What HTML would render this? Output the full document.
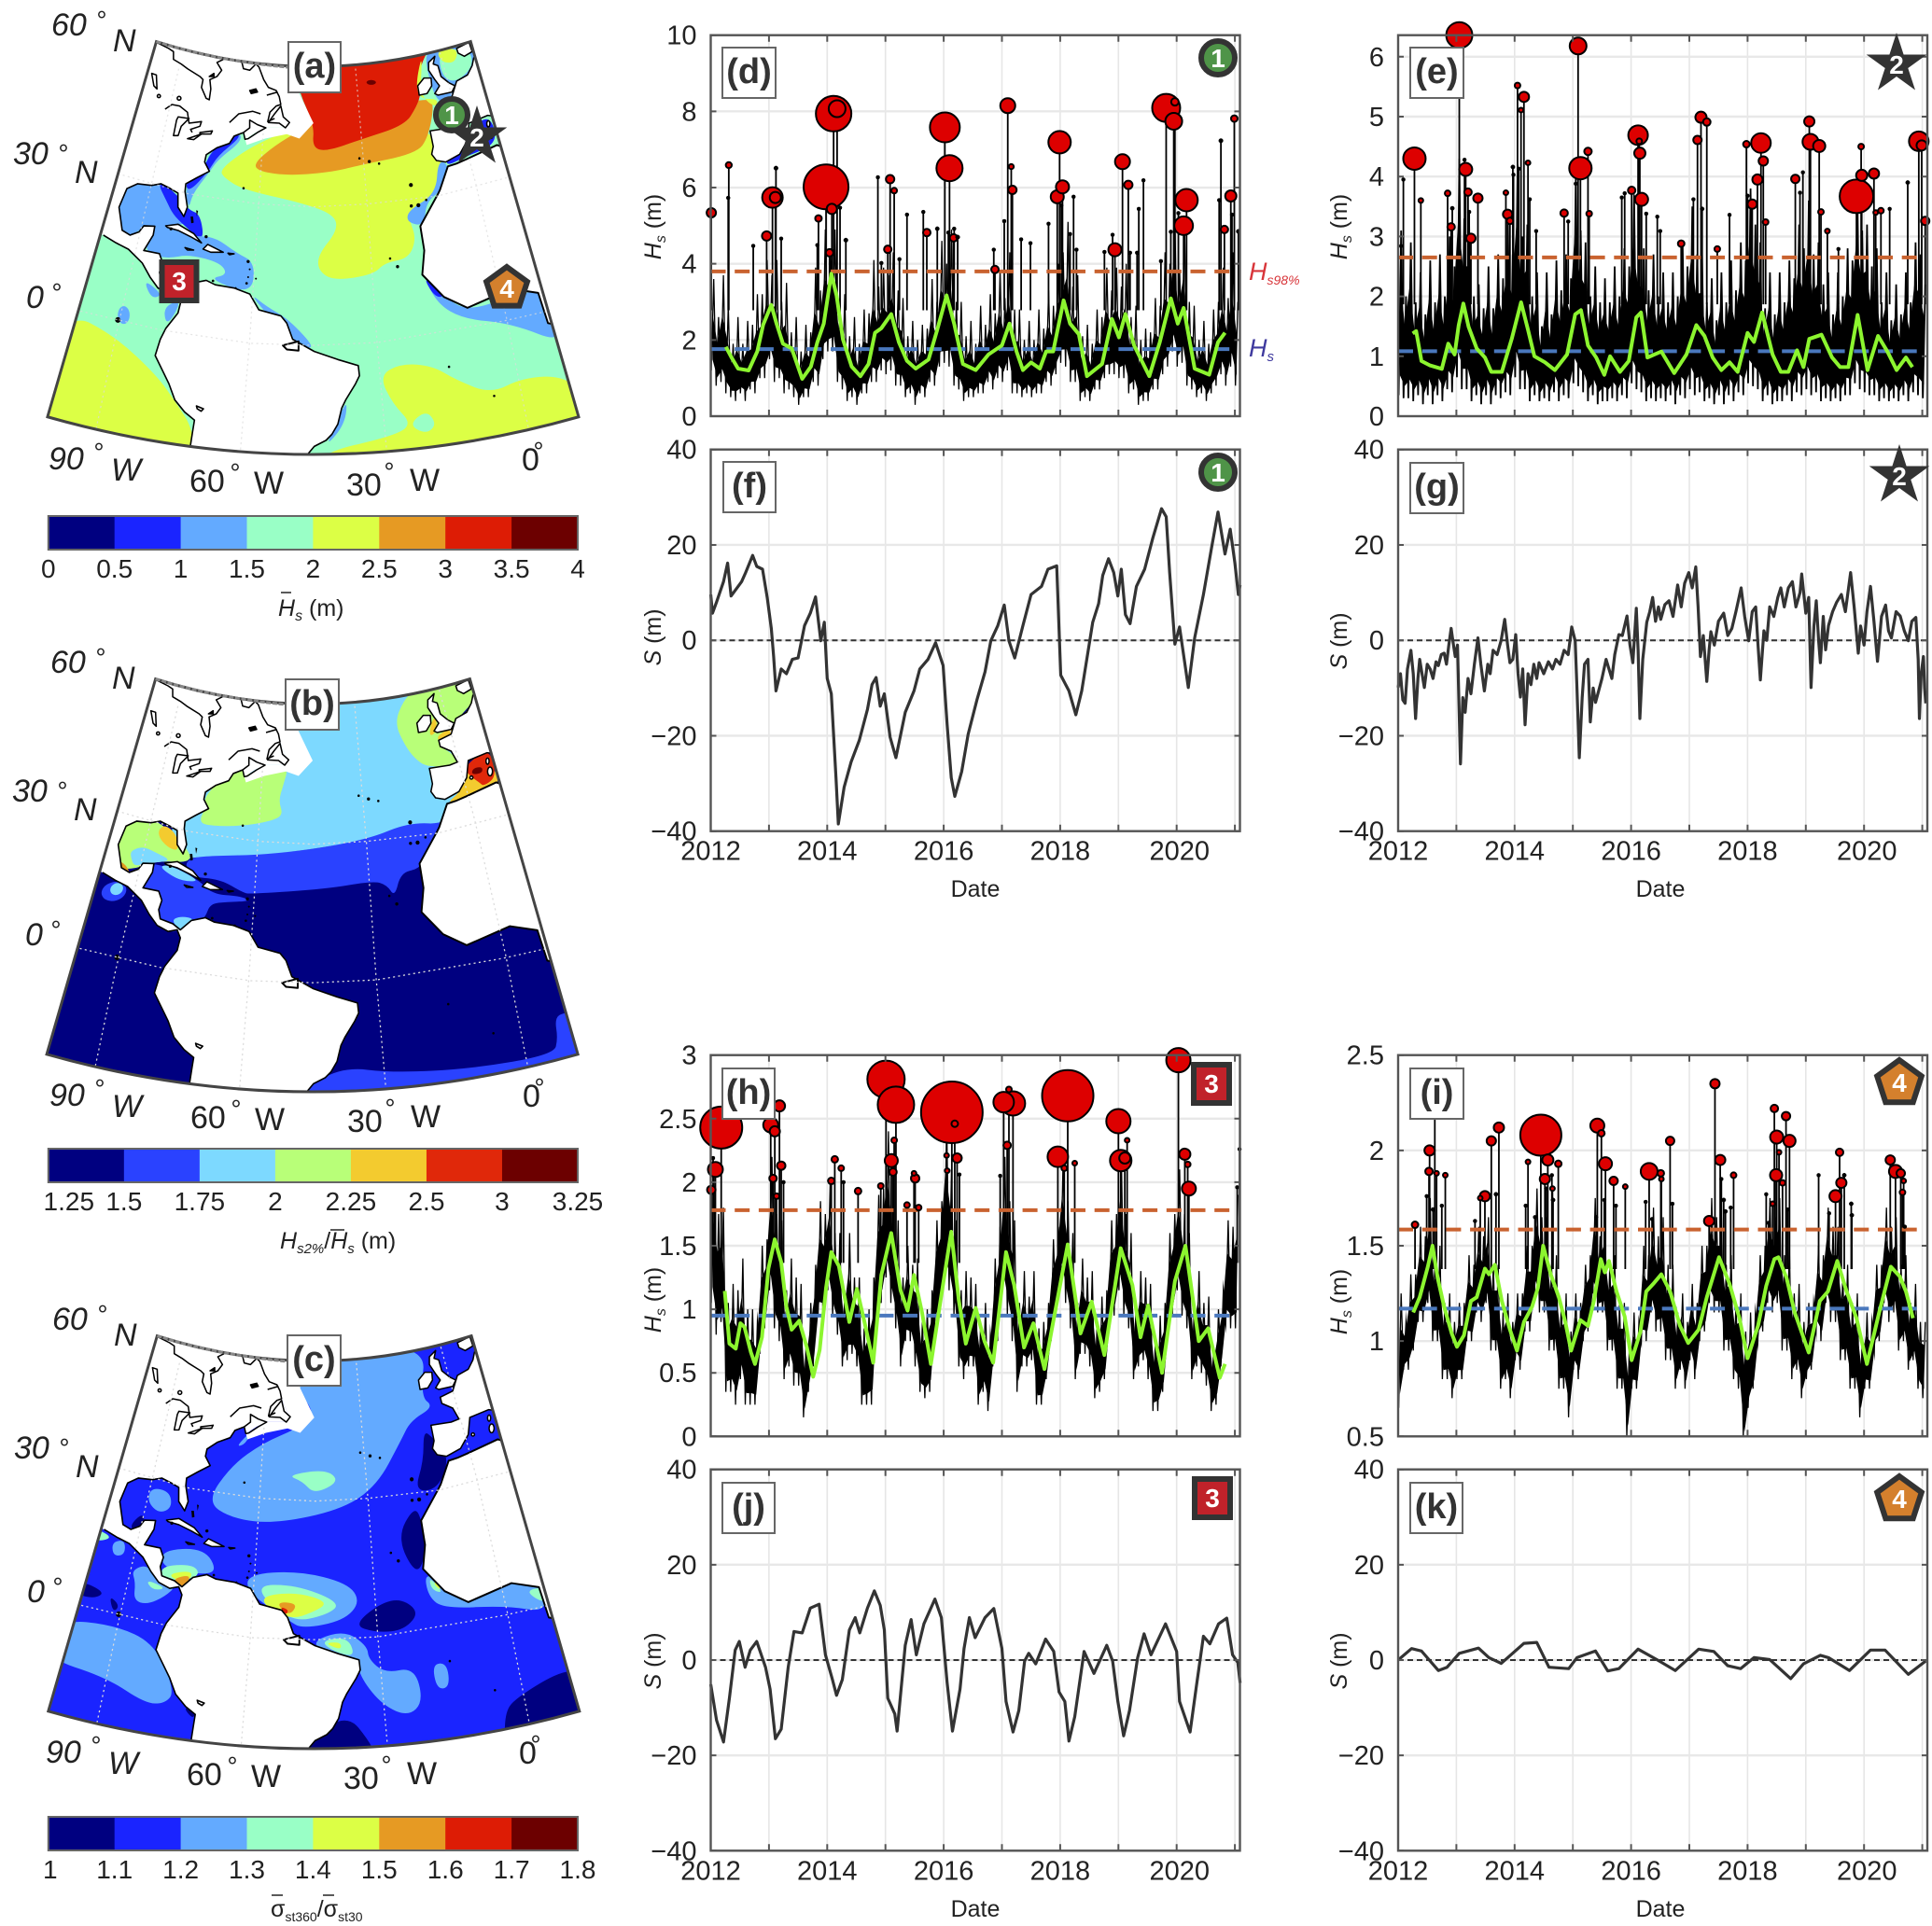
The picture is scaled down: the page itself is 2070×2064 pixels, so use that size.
<!DOCTYPE html>
<html lang="en">
<head>
<meta charset="utf-8">
<title>North Atlantic wave climate maps and time series</title>
<style>
html,body{margin:0;padding:0;background:#fff;}
svg{display:block;}
text{font-family:"Liberation Sans",sans-serif;fill:#222;}
.ll{font-size:34px;}
.it{font-style:italic;}
.pl{font-size:38px;font-weight:bold;fill:#333;text-anchor:middle;}
.box{fill:#fff;stroke:#666;stroke-width:2;}
.bd{font-size:28px;font-weight:bold;fill:#fff;text-anchor:middle;}
.deg{font-size:28px;text-anchor:middle;}
.at{font-size:25px;}
.coast{fill:#fff;stroke:#000;stroke-width:4.6;stroke-linejoin:round;}
.lk{fill:none;stroke:#000;stroke-width:4.6;stroke-linejoin:round;}
.lkf{fill:none;stroke:#000;stroke-width:3.8;stroke-linejoin:round;}
.isl{fill:#000;}
.gr{fill:none;stroke:#dcdcdc;stroke-width:3;stroke-dasharray:5 8;}
.fr{fill:none;stroke:#444;stroke-width:7;}
</style>
</head>
<body>
<svg id="root" xmlns="http://www.w3.org/2000/svg" width="2070" height="2064" viewBox="0 0 2070 2064">
<rect width="2070" height="2064" fill="#fff"/>
<defs>
  <path id="fan" d="M398 103 Q798 227 1198 103 L1473 1032 Q797 1218 121 1032 Z"/>
  <clipPath id="fan-a"><path d="M398 103 Q798 227 1198 103 L1473 1032 Q797 1218 121 1032 Z"/></clipPath>
  <clipPath id="fan-b"><path transform="translate(-2 7)" d="M398 103 Q798 227 1198 103 L1473 1032 Q797 1218 121 1032 Z"/></clipPath>
  <clipPath id="fan-c"><path transform="translate(2 7)" d="M398 103 Q798 227 1198 103 L1473 1032 Q797 1218 121 1032 Z"/></clipPath>
  <g id="land">
    <polygon fill="#fff" points="398,103 760,172 715,259 735,305 727,316 677,316 651,328 624,345 620,328 596,337 584,355 552,366 525,383 521,401 533,424 501,440 473,455 471,474 477,513 468,536 453,513 453,478 434,467 410,455 386,459 350,455 323,467 303,513 311,570 331,582 354,574 366,559 394,560 390,582 366,620 406,628 414,651 406,674 410,697 442,709 461,724 489,701 525,694 548,705 596,713 636,728 659,767 715,782 730,800 745,840 800,870 860,890 912,905 915,930 905,950 880,990 870,1010 860,1050 845,1075 830,1090 800,1105 770,1140 482,1120 490,1070 495,1040 470,1020 445,990 430,950 415,920 395,880 408,840 422,813 453,775 461,744 453,724 430,728 402,713 382,686 362,651 327,617 295,601 263,582 200,560 300,200"/>
    <polygon fill="#fff" points="600,170 762,172 762,232 798,305 762,343 730,332 675,343 628,359 624,345 676,316 727,316 735,305 715,259"/>
    <polyline class="lkf" points="620,328 596,337 584,355 552,366 525,383 521,401 533,424 501,440 473,455 471,474 477,513 468,536 453,513 453,478 434,467 410,455 386,459 350,455 323,467 303,513 311,570 331,582 354,574 366,559 394,560 390,582 366,620 406,628 414,651 406,674 410,697 442,709 461,724 489,701 525,694 548,705 596,713 636,728 659,767 715,782 730,800 745,840 800,870 860,890 912,905 915,930 905,950 880,990 870,1010 860,1050 845,1075 830,1090 800,1105 770,1140"/>
    <polyline class="lkf" points="482,1120 490,1070 495,1040 470,1020 445,990 430,950 415,920 395,880 408,840 422,813 453,775 461,744 453,724 430,728 402,713 382,686 362,651 327,617 295,601 263,582"/>
    <polygon class="lkf" points="500,1005 518,1012 512,1018 502,1012"/>
    <polygon class="coast" stroke-width="3.8" points="720,855 760,845 760,868 730,865"/>

    <!-- Canada, Great Lakes and Maritimes -->
    <g transform="translate(382.2 96.95) scale(.792 .77)">
      <polyline class="lk" points="20,10 60,30 75,40 75,65 100,80 120,95 160,120 170,130 165,155 180,190 190,195 195,160 192,130 215,120 230,100 215,75 235,65"/>
      <polyline class="lk" points="295,75 300,95 320,100 340,80 350,90 365,130 380,155 405,165 415,185 420,210 405,215 385,235 378,265 400,255"/>
      <polyline class="lk" points="400,240 420,215 428,250 448,268 435,285 415,270 380,268 400,240"/>
      <polyline class="lk" points="255,268 285,240 330,232 355,240"/>
      <polyline class="lk" points="300,300 320,285 320,260 345,275 372,285 345,300 315,320 305,322 300,300"/>
      <polygon class="lk" style="fill:#000" points="320,165 340,160 345,170 325,175"/>
      <polyline class="lk" points="375,180 410,170"/>
      <polygon class="lk" points="5,110 20,115 22,160 12,150"/>
      <circle class="lk" cx="28" cy="183" r="5"/>
      <circle class="lk" cx="93" cy="190" r="6"/>
      <polyline class="lk" points="48,225 70,210 95,215 120,235 125,270 165,265 160,280 130,290 135,300"/>
      <polygon class="lk" points="85,260 75,310 90,310 100,280 125,255 90,250"/>
      <polygon class="lk" points="120,320 165,305 140,323"/>
      <polygon class="lk" points="160,300 200,295 195,305 160,305"/>
      <polygon class="lk" style="fill:#000" points="190,120 205,110 205,120"/>
    </g>

    <!-- Europe -->
    <g transform="translate(1011.8 96.95) scale(.792 .77)">
      <polygon class="coast" points="245,60 240,85 225,115 190,135 175,185 135,205 140,225 175,240 195,275 170,285 105,295 115,345 110,370 125,390 155,395 200,370 225,325 230,270 290,245 330,250 300,40"/>
      <polygon class="coast" points="100,75 120,55 115,80 130,85 140,120 165,140 185,150 175,170 130,180 120,175 135,150 120,130 100,100"/>
      <polygon class="coast" points="65,150 85,125 108,125 110,150 95,175 70,180"/>
      <polygon class="coast" points="190,30 230,10 240,40 215,55 195,45"/>
      <ellipse class="coast" cx="292" cy="272" rx="5" ry="10"/>
      <ellipse class="coast" cx="300" cy="305" rx="8" ry="14"/>
      <circle class="coast" cx="240" cy="325" r="5"/>
    </g>
    <polygon class="coast" stroke-width="3.8" points="1140,412 1162,405 1190,393 1265,359 1300,370 1500,820 1395,800 1370,725 1300,715 1190,762 1130,735 1075,680 1080,620 1070,560 1115,480 1120,470"/>

    <!-- Caribbean islands -->
    <g transform="translate(263.4 420.35) scale(.792 .77)">
      <polygon class="coast" points="200,180 240,175 290,205 315,235 280,215 240,195 205,185"/>
      <polygon class="coast" points="335,240 385,265 345,265 320,255"/>
      <polygon class="coast" points="262,250 290,258 270,258"/>
      <polygon class="coast" points="400,268 420,270 405,273"/>
      <polygon class="isl" points="280,150 288,150 290,170 282,172"/>
      <polygon class="isl" points="298,130 304,132 300,150"/>
      <circle class="isl" cx="330" cy="215" r="5"/>
      <circle class="isl" cx="217" cy="190" r="5"/>
      <circle class="isl" cx="465" cy="295" r="5"/>
      <circle class="isl" cx="470" cy="320" r="3"/>
      <circle class="isl" cx="465" cy="345" r="3"/>
      <circle class="isl" cx="490" cy="350" r="3"/>
      <circle class="isl" cx="460" cy="365" r="4"/>
      <circle class="isl" cx="352" cy="357" r="4"/>
      <circle class="isl" cx="425" cy="380" r="3"/>
    </g>
    <circle class="isl" cx="915" cy="392" r="3"/><circle class="isl" cx="940" cy="400" r="4"/><circle class="isl" cx="965" cy="405" r="3"/>
    <circle class="isl" cx="1046" cy="458" r="5"/><circle class="isl" cx="1047" cy="510" r="4"/><circle class="isl" cx="1065" cy="508" r="5"/><circle class="isl" cx="1085" cy="495" r="3"/>
    <circle class="isl" cx="993" cy="640" r="3"/><circle class="isl" cx="1012" cy="660" r="4"/><circle class="isl" cx="300" cy="792" r="7"/>
    <circle class="isl" cx="620" cy="466" r="3"/><circle class="isl" cx="1143" cy="908" r="3"/><circle class="isl" cx="1258" cy="980" r="3"/>
  </g>
  <g id="grat">
    <polyline class="gr" points="205,770 410,817 640,850 800,855 960,848 1280,795 1395,770"/>
    <polyline class="gr" points="300,430 480,480 660,505 800,512 935,505 1115,485 1290,440"/>
    <polyline class="gr" points="455,170 370,520 295,830 245,1060"/>
    <polyline class="gr" points="670,330 655,560 635,850 612,1115"/>
    <polyline class="gr" points="905,170 935,510 960,850 985,1125"/>
    <polyline class="gr" points="1120,130 1210,450 1290,790 1345,1060"/>
  </g>
</defs>

<!-- MAP A -->
<g transform="scale(.4209 .4329)">
 <g clip-path="url(#fan-a)">
  <use href="#fan" fill="#99ffc6"/>
  <g class="contours">
  <polygon fill="#dcff45" points="170,770 290,830 400,930 450,1000 490,1060 500,1160 80,1120 70,1000"/>
  <polygon fill="#dcff45" points="560,420 620,375 700,335 780,310 1100,310 1135,405 1110,480 1050,520 1040,540 1060,590 1040,640 980,650 950,680 850,695 810,670 810,630 860,570 850,530 760,500 620,470 570,440"/>
  <polygon fill="#e69a23" points="645,405 700,360 760,325 800,300 1090,240 1105,260 1090,340 1060,380 910,410 850,425 740,435 660,425"/>
  <polygon fill="#dd1c05" points="740,130 762,230 800,310 795,365 830,375 920,345 1030,310 1060,265 1072,230 1060,210 1075,150 1100,110"/>
  <ellipse fill="#6c0000" cx="945" cy="204" rx="12" ry="6"/>
  <polygon fill="#dcff45" points="1075,130 1058,210 1070,245 1115,245 1110,265 1085,250 1070,225"/>
  <polygon fill="#63aaff" points="1085,120 1220,90 1235,175 1165,240 1115,262 1085,170"/>
  <polygon fill="#99ffc6" points="1115,125 1195,120 1205,165 1160,205 1125,190"/>
  <polygon fill="#dcff45" points="1110,125 1165,118 1160,155 1125,155"/>
  <polygon fill="#dcff45" points="965,930 1020,900 1100,905 1160,940 1250,975 1330,935 1440,930 1510,1000 1480,1120 1100,1170 810,1170 820,1120 1000,1080 1050,1050 1000,1000"/>
  <polygon fill="#99ffc6" points="1040,1052 1085,1015 1112,1050 1085,1075"/>
  <polygon fill="#63aaff" points="1075,670 1130,735 1190,770 1300,735 1400,710 1445,855 1300,800 1180,790 1110,750"/>
  <polygon fill="#1a24ff" points="1075,680 1135,735 1105,735"/>
  <polygon fill="#63aaff" points="345,440 400,440 440,470 480,540 460,560 400,560 360,565 325,590 285,530 305,470"/>
  <polygon fill="#1a24ff" points="400,450 440,470 480,520 510,530 520,600 470,560 440,530 425,500"/>
  <polygon fill="#63aaff" points="375,565 425,545 480,585 545,585 600,625 650,650 640,730 530,690 580,680 560,650 480,630 430,640 370,630"/>
  <polygon fill="#63aaff" points="470,460 515,425 540,365 610,325 615,350 555,395 530,430 490,480 480,520"/>
  <polygon fill="#1a24ff" points="470,455 515,425 540,370 605,330 610,342 555,385 530,425 482,475"/>
  <polygon fill="#63aaff" points="635,725 680,760 735,790 810,870 740,845 690,790"/>
  <polygon fill="#63aaff" points="365,690 415,730 385,740"/>
  <polygon fill="#63aaff" points="415,760 465,740 425,810"/>
  <polygon fill="#63aaff" points="850,1060 885,985 878,1050 830,1105"/>
  <polygon fill="#1a24ff" points="1190,330 1245,280 1270,355 1180,390 1140,410 1135,395 1180,375"/>
  <polygon fill="#63aaff" points="1115,395 1145,410 1125,470 1085,500 1080,560 1035,550 1040,520 1110,480"/>
  </g>
  <ellipse fill="#63aaff" cx="315" cy="780" rx="15" ry="22"/>
  <use href="#land"/>
 </g>
 <use href="#grat" opacity=".7"/>
 <use href="#fan" class="fr"/>
 <path d="M398 103 Q560 152 740 167" fill="none" stroke="#888" stroke-width="7" stroke-dasharray="12 4"/>
</g>

<!-- MAP B -->
<g transform="translate(0 680) scale(.4209 .4329)">
 <g clip-path="url(#fan-b)">
  <use href="#fan" transform="translate(-2 7)" fill="#000080"/>
  <g class="contours">
  <polygon fill="#2a42ff" points="700,1180 770,1130 870,1070 1000,1085 1200,1075 1410,1040 1420,1000 1412,950 1435,935 1510,930 1510,1110 1000,1190"/>
  <polygon fill="#2a42ff" points="470,545 700,545 930,510 1040,455 1125,450 1115,490 1075,560 1065,580 1020,590 1005,650 985,620 950,610 830,630 640,642 620,640 560,605 480,600"/>
  <polygon fill="#7dd9ff" points="700,120 1090,110 1200,300 1170,400 1140,470 1040,465 930,510 700,545 505,548 470,560 420,480 540,300 700,250"/>
  <polygon fill="#b8ff78" points="505,465 525,425 520,405 545,375 586,340 622,335 645,350 673,335 735,325 721,373 709,412 721,447 689,462 618,474 539,474"/>
  <polygon fill="#b8ff78" points="1025,166 1060,130 1160,100 1215,130 1200,173 1168,204 1148,246 1117,262 1121,277 1148,293 1175,320 1089,330 1055,306 1030,273 1005,220"/>
  <polygon fill="#f3cb2f" points="1097,220 1109,200 1113,239 1093,254"/>
  <polygon fill="#f3cb2f" points="1113,250 1148,231 1160,208 1188,192 1205,165 1200,190 1164,220 1148,250 1117,265"/>
  <polygon fill="#f3cb2f" points="1135,420 1188,400 1275,370 1260,330 1200,330 1180,358 1172,389"/>
  <polygon fill="#e0280a" points="1192,318 1245,280 1265,350 1232,376 1220,366 1196,350 1186,335"/>
  <polygon fill="#6c0000" points="1204,331 1228,327 1228,343 1200,347"/>
  <polygon fill="#b8ff78" points="320,455 390,450 475,525 490,565 400,560 345,580 300,580 285,525"/>
  <polygon fill="#f3cb2f" points="402,485 420,470 450,495 455,535 432,530 408,508"/>
  <polygon fill="#7dd9ff" points="333,535 364,524 404,543 428,555 424,562 372,566 341,574 333,551"/>
  <polygon fill="#e09a20" points="300,558 320,570 332,592 308,585"/>
  <polygon fill="#2a42ff" points="360,555 499,600 539,643 610,647 640,660 578,662 535,666 523,700 490,730 400,740 395,640 350,620"/>
  <polygon fill="#7dd9ff" points="404,574 432,570 507,608 483,612 447,604"/>
  <polygon fill="#7dd9ff" points="435,708 459,697 499,704 467,740"/>
  </g>
  <ellipse fill="#2a42ff" cx="290" cy="636" rx="32" ry="23" transform="rotate(-15 290 636)"/>
  <ellipse fill="#7dd9ff" cx="297" cy="630" rx="17" ry="14" transform="rotate(-30 297 630)"/>
  <use href="#land" transform="translate(-2 7)"/>
 </g>
 <use href="#grat" transform="translate(-2 7)"/>
 <use href="#fan" class="fr" transform="translate(-2 7)"/>
 <path transform="translate(-2 7)" d="M398 103 Q560 152 740 167" fill="none" stroke="#888" stroke-width="7" stroke-dasharray="12 4"/>
</g>

<!-- MAP C -->
<g transform="translate(0 1384) scale(.4209 .4329)">
 <g clip-path="url(#fan-c)">
  <use href="#fan" transform="translate(2 7)" fill="#1a24ff"/>
  <g class="contours">
  <polygon fill="#63aaff" points="740,150 1085,125 1070,260 1105,285 1045,320 1020,370 960,480 870,540 700,575 590,562 525,520 590,430 670,375 755,340 805,305 755,240"/>
  <polygon fill="#63aaff" points="600,385 640,345 625,378"/>
  <polygon fill="#99ffc6" points="730,455 830,440 865,470 800,502 770,470"/>
  <polygon fill="#000080" points="1078,345 1100,360 1145,410 1115,490 1055,495 1078,420"/>
  <polygon fill="#000080" points="1055,530 1075,570 1085,650 1060,705 1010,610"/>
  <polygon fill="#63aaff" points="385,485 432,495 438,535 405,550 375,520"/>
  <polygon fill="#000080" points="330,580 360,550 370,565 345,595"/>
  <polygon fill="#63aaff" points="410,640 520,635 555,695 500,700 415,685"/>
  <polygon fill="#99ffc6" points="405,680 495,675 510,708 420,720"/>
  <polygon fill="#dcff45" points="420,700 495,690 475,725"/>
  <polygon fill="#e69a23" points="435,712 490,700 465,738"/>
  <polygon fill="#63aaff" points="630,700 760,692 885,722 918,768 875,815 770,835 735,815 630,745"/>
  <polygon fill="#99ffc6" points="640,728 750,725 868,770 835,800 740,820"/>
  <polygon fill="#dcff45" points="672,752 760,745 838,770 795,795 740,812 672,778"/>
  <polygon fill="#e69a23" points="700,768 760,772 735,805"/>
  <polygon fill="#dd1c05" points="712,780 735,788 728,802"/>
  <polygon fill="#000080" points="895,825 1000,752 1070,790 1030,838 960,845"/>
  <polygon fill="#63aaff" points="805,860 880,840 935,878 938,910 980,945 1055,930 1078,1015 1040,1052 975,1025 920,960 905,905 805,885"/>
  <polygon fill="#99ffc6" points="815,865 885,855 905,905 850,892"/>
  <polygon fill="#dcff45" points="825,870 868,868 868,888"/>
  <polygon fill="#63aaff" points="1100,922 1138,920 1145,980 1112,985"/>
  <polygon fill="#63aaff" points="1080,695 1130,725 1190,762 1300,710 1380,715 1395,795 1290,778 1130,785 1090,755"/>
  <polygon fill="#99ffc6" points="1092,705 1130,748 1098,738"/>
  <polygon fill="#dcff45" points="1105,715 1125,740 1108,730"/>
  <polygon fill="#99ffc6" points="1335,742 1385,730 1390,775"/>
  <polygon fill="#000080" points="1285,1045 1310,1008 1440,932 1510,950 1510,1110 1285,1130"/>
  <polygon fill="#000080" points="730,1170 875,1035 950,1125 965,1180"/>
  <polygon fill="#63aaff" points="150,812 290,825 395,872 445,990 420,1020 370,1020 270,955 110,905"/>
  <polygon fill="#000080" points="205,715 268,745 240,760 195,750"/>
  <polygon fill="#000080" points="278,752 305,778 288,795"/>
  <polygon fill="#63aaff" points="335,690 375,675 400,715 450,728 420,755 375,775 340,765 345,720"/>
  <polygon fill="#99ffc6" points="370,712 425,735 388,740"/>
  <polygon fill="#63aaff" points="285,620 318,615 318,652 288,655"/>
  <polygon fill="#99ffc6" points="240,585 290,610 240,620"/>
  <polygon fill="#000080" points="465,1028 500,1036 492,1060"/>
  </g>
  <use href="#land" transform="translate(2 7)"/>
 </g>
 <use href="#grat" transform="translate(2 7)"/>
 <use href="#fan" class="fr" transform="translate(2 7)"/>
 <path transform="translate(2 7)" d="M398 103 Q560 152 740 167" fill="none" stroke="#888" stroke-width="7" stroke-dasharray="12 4"/>
</g>

<!-- map graticule labels -->
<g>
 <text class="ll it" x="55" y="38">60</text><text class="deg" x="109" y="31">°</text><text class="ll it" x="121" y="55">N</text>
 <text class="ll it" x="14" y="176">30</text><text class="deg" x="68" y="174">°</text><text class="ll it" x="80" y="196">N</text>
 <text class="ll it" x="28" y="330">0</text><text class="deg" x="61" y="323">°</text>
</g>
<g>
 <text class="ll it" x="52" y="503">90</text><text class="deg" x="106" y="494">°</text><text class="ll it" x="119" y="515">W</text>
 <text class="ll" x="203" y="527">60</text><text class="deg" x="252" y="516">°</text><text class="ll" x="272" y="529">W</text>
 <text class="ll" x="371" y="531">30</text><text class="deg" x="417" y="515">°</text><text class="ll" x="439" y="526">W</text>
 <text class="ll" x="559" y="504">0</text><text class="deg" x="577" y="493">°</text>
</g>
<g transform="translate(-1 683)">
 <text class="ll it" x="55" y="38">60</text><text class="deg" x="109" y="31">°</text><text class="ll it" x="121" y="55">N</text>
 <text class="ll it" x="14" y="176">30</text><text class="deg" x="68" y="174">°</text><text class="ll it" x="80" y="196">N</text>
 <text class="ll it" x="28" y="330">0</text><text class="deg" x="61" y="323">°</text>
</g>
<g transform="translate(1 682)">
 <text class="ll it" x="52" y="503">90</text><text class="deg" x="106" y="494">°</text><text class="ll it" x="119" y="515">W</text>
 <text class="ll" x="203" y="527">60</text><text class="deg" x="252" y="516">°</text><text class="ll" x="272" y="529">W</text>
 <text class="ll" x="371" y="531">30</text><text class="deg" x="417" y="515">°</text><text class="ll" x="439" y="526">W</text>
 <text class="ll" x="559" y="504">0</text><text class="deg" x="577" y="493">°</text>
</g>
<g transform="translate(1 1387)">
 <text class="ll it" x="55" y="38">60</text><text class="deg" x="109" y="31">°</text><text class="ll it" x="121" y="55">N</text>
 <text class="ll it" x="14" y="176">30</text><text class="deg" x="68" y="174">°</text><text class="ll it" x="80" y="196">N</text>
 <text class="ll it" x="28" y="330">0</text><text class="deg" x="61" y="323">°</text>
</g>
<g transform="translate(-3 1386)">
 <text class="ll it" x="52" y="503">90</text><text class="deg" x="106" y="494">°</text><text class="ll it" x="119" y="515">W</text>
 <text class="ll" x="203" y="527">60</text><text class="deg" x="252" y="516">°</text><text class="ll" x="272" y="529">W</text>
 <text class="ll" x="371" y="531">30</text><text class="deg" x="417" y="515">°</text><text class="ll" x="439" y="526">W</text>
 <text class="ll" x="559" y="504">0</text><text class="deg" x="577" y="493">°</text>
</g>

<g id="colorbars"></g>
<g id="charts"></g>

<!-- colorbar titles -->
<g>
 <line x1="301" x2="312" y1="635" y2="635" stroke="#222" stroke-width="1.5"/>
 <text x="298" y="660" font-size="25"><tspan font-style="italic">H</tspan><tspan font-style="italic" font-size="16" dy="5">s</tspan><tspan dy="-5"> (m)</tspan></text>
</g>
<g>
 <line x1="354" x2="369" y1="1318" y2="1318" stroke="#222" stroke-width="1.5"/>
 <text x="300" y="1338" font-size="25"><tspan font-style="italic">H</tspan><tspan font-style="italic" font-size="15" dy="5">s2%</tspan><tspan dy="-5">/</tspan><tspan font-style="italic">H</tspan><tspan font-style="italic" font-size="15" dy="5">s</tspan><tspan dy="-5"> (m)</tspan></text>
</g>
<g>
 <line x1="291" x2="303" y1="2031" y2="2031" stroke="#222" stroke-width="1.5"/>
 <line x1="346" x2="358" y1="2031" y2="2031" stroke="#222" stroke-width="1.5"/>
 <text x="290" y="2054" font-size="25">σ<tspan font-size="14" dy="5">st360</tspan><tspan dy="-5">/σ</tspan><tspan font-size="14" dy="5">st30</tspan></text>
</g>

<!-- axis titles -->
<g transform="translate(708 243) rotate(-90)"><text class="at" text-anchor="middle"><tspan font-style="italic">H</tspan><tspan font-style="italic" font-size="16" dy="5">s</tspan><tspan dy="-5"> (m)</tspan></text></g>
<g transform="translate(1443 243) rotate(-90)"><text class="at" text-anchor="middle"><tspan font-style="italic">H</tspan><tspan font-style="italic" font-size="16" dy="5">s</tspan><tspan dy="-5"> (m)</tspan></text></g>
<g transform="translate(708 1393) rotate(-90)"><text class="at" text-anchor="middle"><tspan font-style="italic">H</tspan><tspan font-style="italic" font-size="16" dy="5">s</tspan><tspan dy="-5"> (m)</tspan></text></g>
<g transform="translate(1443 1395) rotate(-90)"><text class="at" text-anchor="middle"><tspan font-style="italic">H</tspan><tspan font-style="italic" font-size="16" dy="5">s</tspan><tspan dy="-5"> (m)</tspan></text></g>
<text class="at" text-anchor="middle" transform="translate(708 683) rotate(-90)"><tspan font-style="italic">S</tspan> (m)</text>
<text class="at" text-anchor="middle" transform="translate(1443 687) rotate(-90)"><tspan font-style="italic">S</tspan> (m)</text>
<text class="at" text-anchor="middle" transform="translate(708 1780) rotate(-90)"><tspan font-style="italic">S</tspan> (m)</text>
<text class="at" text-anchor="middle" transform="translate(1443 1780) rotate(-90)"><tspan font-style="italic">S</tspan> (m)</text>
<text class="at" text-anchor="middle" x="1045" y="961">Date</text>
<text class="at" text-anchor="middle" x="1779" y="961">Date</text>
<text class="at" text-anchor="middle" x="1045" y="2054">Date</text>
<text class="at" text-anchor="middle" x="1779" y="2054">Date</text>

<!-- threshold annotations -->
<text x="1338" y="300" font-size="27" font-style="italic" style="fill:#d8353a">H<tspan font-size="14" dy="5" style="fill:#d8353a">s98%</tspan></text>
<text x="1338" y="382" font-size="27" font-style="italic" style="fill:#3f3a9e">H<tspan font-size="15" dy="5" style="fill:#3f3a9e">s</tspan></text>

<!-- panel labels -->
<g><rect class="box" x="309" y="45" width="56" height="54"/><text class="pl" x="337" y="83">(a)</text></g>
<g><rect class="box" x="306" y="728" width="57" height="54"/><text class="pl" x="334.5" y="766">(b)</text></g>
<g><rect class="box" x="308" y="1431" width="57" height="54"/><text class="pl" x="336.5" y="1469">(c)</text></g>
<g><rect class="box" x="774" y="51" width="57" height="54"/><text class="pl" x="802.5" y="89">(d)</text></g>
<g><rect class="box" x="1511" y="51" width="57" height="54"/><text class="pl" x="1539.5" y="89">(e)</text></g>
<g><rect class="box" x="775" y="495" width="56" height="54"/><text class="pl" x="803" y="533">(f)</text></g>
<g><rect class="box" x="1511" y="496" width="57" height="54"/><text class="pl" x="1539.5" y="534">(g)</text></g>
<g><rect class="box" x="774" y="1145" width="56" height="54"/><text class="pl" x="802" y="1183">(h)</text></g>
<g><rect class="box" x="1511" y="1145" width="57" height="54"/><text class="pl" x="1539.5" y="1183">(i)</text></g>
<g><rect class="box" x="774" y="1589" width="56" height="54"/><text class="pl" x="802" y="1627">(j)</text></g>
<g><rect class="box" x="1511" y="1589" width="56" height="54"/><text class="pl" x="1539" y="1627">(k)</text></g>

<!-- site badges -->
<g><circle cx="484" cy="123" r="17" fill="#4f9448" stroke="#333" stroke-width="6"/><text class="bd" x="484" y="133">1</text></g>
<g transform="translate(511 147)"><polygon fill="#333" points="0,-34 7.6,-10.5 32.3,-10.5 12.3,4 20,27.5 0,13 -20,27.5 -12.3,4 -32.3,-10.5 -7.6,-10.5"/><text class="bd" x="0" y="10">2</text></g>
<g><rect x="173.5" y="281" width="37" height="41" fill="#c0222a" stroke="#333" stroke-width="6"/><text class="bd" x="192" y="311">3</text></g>
<g transform="translate(543 309)"><polygon fill="#d4802d" stroke="#333" stroke-width="6" points="0,-23 21.9,-7.1 13.5,18.6 -13.5,18.6 -21.9,-7.1"/><text class="bd" x="0" y="10">4</text></g>
<g><circle cx="1305" cy="62" r="18" fill="#4f9448" stroke="#333" stroke-width="6"/><text class="bd" x="1305" y="72">1</text></g>
<g><circle cx="1305" cy="506" r="18" fill="#4f9448" stroke="#333" stroke-width="6"/><text class="bd" x="1305" y="516">1</text></g>
<g transform="translate(2032 69)"><polygon fill="#333" points="0,-34 7.6,-10.5 32.3,-10.5 12.3,4 20,27.5 0,13 -20,27.5 -12.3,4 -32.3,-10.5 -7.6,-10.5"/><text class="bd" x="0" y="10">2</text></g>
<g transform="translate(2035 510)"><polygon fill="#333" points="0,-34 7.6,-10.5 32.3,-10.5 12.3,4 20,27.5 0,13 -20,27.5 -12.3,4 -32.3,-10.5 -7.6,-10.5"/><text class="bd" x="0" y="10">2</text></g>
<g><rect x="1279" y="1141" width="38" height="41" fill="#c0222a" stroke="#333" stroke-width="6"/><text class="bd" x="1298" y="1171">3</text></g>
<g><rect x="1280" y="1585" width="38" height="41" fill="#c0222a" stroke="#333" stroke-width="6"/><text class="bd" x="1299" y="1615">3</text></g>
<g transform="translate(2035 1161)"><polygon fill="#d4802d" stroke="#333" stroke-width="6" points="0,-25 23.8,-7.7 14.7,20.2 -14.7,20.2 -23.8,-7.7"/><text class="bd" x="0" y="9">4</text></g>
<g transform="translate(2035 1607)"><polygon fill="#d4802d" stroke="#333" stroke-width="6" points="0,-25 23.8,-7.7 14.7,20.2 -14.7,20.2 -23.8,-7.7"/><text class="bd" x="0" y="9">4</text></g>
</svg>

<script>
// ---------- colorbar data ----------
const cbAColors = ['#000080','#1a24ff','#63aaff','#99ffc6','#dcff45','#e69a23','#dd1c05','#6c0000'];
const cbATicks = ['0','0.5','1','1.5','2','2.5','3','3.5','4'];
const cbBColors = ['#000080','#2a42ff','#7dd9ff','#b8ff78','#f3cb2f','#e0280a','#6c0000'];
const cbBTicks = ['1.25','1.5','1.75','2','2.25','2.5','3','3.25'];
const cbCColors = ['#000080','#1a24ff','#63aaff','#99ffc6','#dcff45','#e69a23','#dd1c05','#6c0000'];
const cbCTicks = ['1','1.1','1.2','1.3','1.4','1.5','1.6','1.7','1.8'];

// ---------- shared axes data ----------
const hsYears = [2012,2013,2014,2015,2016,2017,2018,2019,2020,2021];
const yearLabels = ['2012','','2014','','2016','','2018','','2020',''];
const surgeTicks = [-40,-20,0,20,40];
const surgeTickLabels = ['−40','−20','0','20','40'];
const dTicks = [0,2,4,6,8,10];
const dTickLabels = ['0','2','4','6','8','10'];
const eTicks = [0,1,2,3,4,5,6];
const eTickLabels = ['0','1','2','3','4','5','6'];
const hTicks = [0,0.5,1,1.5,2,2.5,3];
const hTickLabels = ['0','0.5','1','1.5','2','2.5','3'];
const iTicks = [0.5,1,1.5,2,2.5];
const iTickLabels = ['0.5','1','1.5','2','2.5'];

// ---------- raw Hs traces: alternating monthly low, high envelope readings ----------
const dSeries = [1.2,3.6,.8,2.6,.9,3.7,.6,2.9,.5,1.9,.4,2.6,.6,1.9,.4,2.5,.7,2.4,.6,3.2,1.0,3.2,1.0,4.1,
1.5,3.7,.9,4.1,1.0,3.0,.6,3.5,.7,2.2,.5,2.6,.3,1.7,.5,2.4,.5,2.2,.9,3.9,.8,3.3,1.5,4.9,
1.7,4.4,1.7,4.9,.9,3.1,.7,3.2,.4,2.1,.5,2.6,.3,1.9,.6,2.8,.6,2.7,.9,4.1,.9,3.4,1.2,3.9,
1.1,3.7,1.2,4.3,.8,3.3,.8,3.1,.5,2.1,.6,2.5,.3,2.0,.6,2.4,.5,2.3,.9,3.6,.8,3.0,1.3,4.6,
1.4,4.0,1.3,4.9,.8,3.0,.7,3.0,.4,2.1,.5,2.5,.5,1.9,.6,2.9,.6,2.4,.9,3.2,.7,2.7,1.0,3.8,
.9,3.1,1.2,4.3,.6,2.8,.6,2.8,.5,2.0,.6,2.5,.5,2.0,.6,2.8,.6,2.3,.9,3.3,.8,2.9,1.1,4.0,
1.4,4.3,1.3,5.1,.9,3.4,.9,3.7,.4,2.1,.5,2.4,.4,1.9,.7,2.8,.7,2.6,1.0,3.9,1.1,3.3,1.1,3.9,
1.0,3.4,1.0,4.0,.6,2.6,.7,2.9,.3,2.0,.4,2.3,.4,2.2,.7,3.1,.7,2.9,1.1,4.3,1.3,4.0,1.7,5.4,
1.3,3.8,1.4,5.0,.8,3.0,.7,2.9,.5,2.0,.6,2.5,.4,1.9,.6,2.8,.8,3.0,1.1,3.9,.8,3.1,1.3,4.3,.8,3.0];
const eSeries = [.35,3.1,.3,2.0,.3,2.9,.25,1.9,.35,2.4,.2,1.7,.35,2.6,.2,1.9,.35,2.7,.25,2.0,.45,3.0,.4,2.5,
.65,4.3,.45,3.3,.45,3.3,.25,2.0,.35,2.2,.2,1.8,.35,2.5,.2,1.8,.35,2.7,.3,2.3,.4,3.2,.35,2.7,
.65,4.2,.45,3.0,.45,3.2,.25,2.0,.35,2.4,.25,1.5,.3,2.4,.25,1.7,.4,2.6,.25,2.1,.35,2.7,.3,2.3,
.55,4.0,.5,3.1,.4,2.9,.25,2.0,.35,2.5,.2,1.9,.25,2.3,.25,1.9,.3,2.5,.25,2.0,.35,2.8,.3,2.5,
.55,3.7,.45,2.9,.4,2.8,.25,2.1,.3,2.7,.25,2.0,.3,2.4,.25,1.9,.35,2.4,.2,2.0,.35,2.9,.3,2.5,
.45,3.5,.35,2.7,.4,2.7,.25,1.9,.3,2.3,.2,1.6,.35,2.4,.2,1.9,.35,2.6,.25,2.1,.4,2.9,.35,2.6,
.55,3.8,.5,3.2,.45,2.9,.25,1.8,.35,2.4,.2,1.7,.25,2.4,.25,1.9,.35,2.6,.25,2.3,.4,3.2,.35,2.8,
.45,3.6,.35,2.7,.4,2.9,.25,2.2,.3,2.4,.25,1.7,.3,2.4,.25,2.0,.35,2.8,.35,2.6,.55,3.8,.45,3.1,
.4,3.2,.35,2.5,.35,2.8,.25,1.9,.3,2.4,.25,1.6,.3,2.2,.25,1.7,.35,2.4,.25,1.9,.4,2.9,.35,2.7,.3,2.2];
const hSeries = [1.05,2.1,.8,1.75,.9,1.8,.35,1.05,.35,1.2,.25,1.15,.45,1.4,.25,1.0,.25,1.0,.25,.9,.65,1.5,.85,1.55,
1.15,2.2,.85,1.75,.75,1.7,.45,1.15,.55,1.4,.4,1.25,.4,1.2,.15,.7,.35,1.05,.55,1.35,.95,1.85,.95,1.75,
1.15,2.0,.95,1.6,.8,1.6,.55,1.15,.6,1.6,.65,1.25,.55,1.25,.25,.85,.25,1.0,.25,1.25,.95,1.9,1.05,1.95,
1.25,2.4,1.05,1.95,.85,1.7,.55,1.25,.75,1.5,.75,1.35,.55,1.4,.35,.9,.3,1.0,.35,1.15,.85,1.7,.95,1.85,
1.25,2.5,1.15,2.1,.95,1.7,.55,1.15,.45,1.3,.55,1.25,.55,1.2,.25,.9,.35,1.05,.2,.8,.55,1.4,.75,1.65,
1.15,2.2,.95,1.85,.75,1.7,.35,1.05,.55,1.3,.55,1.1,.6,1.3,.25,.85,.25,.9,.45,1.05,.75,1.55,.95,1.65,
1.25,2.2,1.05,1.85,.85,1.6,.45,1.05,.65,1.4,.65,1.25,.55,1.3,.3,.9,.35,1.1,.45,1.15,.85,1.7,.95,1.75,
1.15,2.2,.95,1.75,.85,1.6,.45,1.0,.55,1.3,.6,1.25,.45,1.2,.2,.75,.2,.95,.35,1.05,.75,1.6,.95,1.75,
1.15,2.1,.95,1.75,.85,1.6,.45,1.0,.55,1.3,.5,1.05,.4,1.1,.2,.7,.25,1.0,.55,1.15,.9,1.7,.85,1.65,.85,1.9];
const iSeries = [.65,1.25,.85,1.1,.85,1.35,.95,1.35,1.1,1.6,1.1,1.55,1.2,1.75,1.0,1.45,1.0,1.5,.8,1.2,.8,1.25,.7,1.1,
.8,1.2,.8,1.2,1.0,1.45,1.0,1.4,1.15,1.6,1.1,1.55,1.2,1.65,.95,1.4,.95,1.4,.75,1.15,.8,1.25,.7,1.1,
.9,1.25,.85,1.25,1.05,1.5,1.05,1.5,1.25,1.8,1.15,1.65,1.15,1.65,.95,1.4,.95,1.45,.75,1.2,.75,1.25,.6,1.05,
.85,1.25,.8,1.2,1.0,1.4,1.05,1.45,1.25,1.75,1.15,1.55,1.15,1.65,.95,1.4,.95,1.45,.75,1.2,.75,1.2,.5,.95,
.75,1.15,.75,1.1,1.0,1.5,1.0,1.45,1.15,1.7,1.05,1.55,1.05,1.65,.9,1.4,.9,1.4,.75,1.15,.85,1.25,.75,1.1,
.9,1.3,.8,1.2,1.0,1.5,1.05,1.5,1.2,1.75,1.15,1.65,1.15,1.65,.95,1.4,.95,1.45,.8,1.2,.75,1.25,.45,1.05,
.65,1.15,.75,1.15,1.0,1.45,1.05,1.5,1.2,1.75,1.15,1.65,1.2,1.75,.95,1.45,.95,1.5,.8,1.25,.85,1.3,.7,1.1,
.8,1.2,.85,1.2,1.05,1.5,1.0,1.45,1.2,1.7,1.1,1.6,1.1,1.6,.9,1.35,.9,1.4,.75,1.2,.75,1.25,.6,1.0,
.75,1.15,.75,1.1,.95,1.4,1.0,1.4,1.2,1.7,1.1,1.6,1.15,1.65,.95,1.4,1.0,1.45,.85,1.2,.9,1.3,.75,1.1,.7,1.1];

// ---------- 30-day running means ----------
const dMeanT = [2012.26,2012.36,2012.47,2012.65,2012.8,2012.9,2013.04,2013.13,2013.24,2013.39,2013.57,2013.72,2013.83,2013.94,2014.07,2014.16,2014.27,2014.42,2014.57,2014.71,2014.82,2014.93,2015.1,2015.23,2015.37,2015.52,2015.74,2015.89,2016.05,2016.18,2016.33,2016.55,2016.77,2017,2017.13,2017.25,2017.36,2017.5,2017.65,2017.76,2017.88,2018.06,2018.17,2018.32,2018.46,2018.72,2018.89,2019.01,2019.12,2019.27,2019.53,2019.71,2019.9,2020.02,2020.12,2020.31,2020.56,2020.71,2020.83];
const dMeanV = [1.82,1.53,1.25,1.2,1.7,2.4,2.92,2.43,1.9,1.78,.98,1.3,1.94,2.43,3.74,3.17,2.02,1.3,1.05,1.37,2.19,2.31,2.68,1.94,1.45,1.25,1.49,2.27,3.17,2.43,1.37,1.21,1.62,1.86,2.43,1.7,1.21,1.41,1.25,1.7,1.7,3.04,2.43,2.15,1.05,1.37,2.55,2.07,2.68,1.86,1.05,1.94,3.09,2.43,2.84,1.25,1.09,1.94,2.19];
const eMeanT = [2012.25,2012.31,2012.4,2012.54,2012.75,2012.86,2012.97,2013.04,2013.12,2013.21,2013.35,2013.49,2013.6,2013.78,2013.95,2014.11,2014.23,2014.34,2014.52,2014.69,2014.9,2015.04,2015.14,2015.26,2015.4,2015.54,2015.64,2015.81,2015.96,2016.09,2016.17,2016.28,2016.52,2016.74,2016.95,2017.12,2017.26,2017.4,2017.55,2017.69,2017.83,2018,2018.11,2018.25,2018.43,2018.57,2018.7,2018.85,2018.96,2019.06,2019.27,2019.45,2019.59,2019.73,2019.89,2020.06,2020.24,2020.4,2020.56,2020.72,2020.83];
const eMeanV = [1.38,1.42,.92,.85,.79,1.21,1.03,1.52,1.88,1.49,1.13,.98,.74,.74,1.29,1.9,1.44,1,.9,.77,1.03,1.7,1.77,1.18,.98,.69,1,.74,.92,1.65,1.73,.98,1.08,.72,1.03,1.52,1.34,.98,.77,.9,.74,1.39,1.24,1.73,1.03,.74,.74,1.1,.82,1.29,1.36,.98,.82,.82,1.69,.77,1.34,1.08,.77,.98,.82];
const hMeanT = [2012.24,2012.32,2012.43,2012.51,2012.58,2012.69,2012.76,2012.88,2012.99,2013.1,2013.21,2013.3,2013.39,2013.52,2013.65,2013.76,2013.87,2013.98,2014.07,2014.2,2014.38,2014.51,2014.64,2014.79,2014.93,2015.1,2015.26,2015.38,2015.49,2015.63,2015.78,2015.93,2016.13,2016.26,2016.38,2016.55,2016.7,2016.85,2017.07,2017.21,2017.38,2017.54,2017.73,2017.88,2018.13,2018.35,2018.54,2018.76,2019.04,2019.24,2019.38,2019.51,2019.75,2019.97,2020.15,2020.38,2020.54,2020.74,2020.83];
const hMeanV = [1.145,.73,.69,.89,.86,.66,.57,.78,1.32,1.55,1.37,1.02,.84,.91,.7,.47,.68,1.17,1.45,1.34,.9,1.16,.9,.58,1.27,1.6,1.15,.99,1.27,.97,.57,1.02,1.61,1.07,.73,1.01,.75,.58,1.45,1.19,.7,.89,.53,.9,1.51,.81,1.06,.64,1.48,1.19,.78,1.03,.5,1.22,1.5,.75,.85,.46,.57];
const iMeanT = [2012.26,2012.37,2012.51,2012.59,2012.68,2012.79,2012.92,2013.01,2013.13,2013.25,2013.35,2013.49,2013.56,2013.66,2013.78,2013.92,2014.04,2014.16,2014.3,2014.4,2014.49,2014.62,2014.76,2014.87,2014.97,2015.13,2015.26,2015.36,2015.48,2015.55,2015.62,2015.75,2015.89,2016.01,2016.16,2016.26,2016.38,2016.52,2016.67,2016.84,2016.98,2017.16,2017.3,2017.51,2017.69,2017.86,2018,2018.18,2018.32,2018.46,2018.53,2018.67,2018.81,2019.05,2019.24,2019.38,2019.54,2019.7,2019.87,2020.05,2020.26,2020.46,2020.61,2020.72,2020.84];
const iMeanV = [1.15,1.23,1.39,1.5,1.33,1.18,1.04,.97,1.03,1.21,1.23,1.38,1.35,1.4,1.21,1.06,.95,1.1,1.18,1.28,1.5,1.35,1.23,1.1,.95,1.11,1.08,1.21,1.43,1.36,1.42,1.26,1.13,.9,1.05,1.26,1.3,1.35,1.26,1.08,.99,1.06,1.23,1.44,1.3,1.12,.91,1.08,1.29,1.43,1.44,1.33,1.15,.94,1.21,1.26,1.42,1.26,1.12,.88,1.15,1.39,1.34,1.26,1.12];

// ---------- thresholds ----------
const dHs98 = 3.8, dHsMean = 1.76;
const eHs98 = 2.65, eHsMean = 1.085;
const hHs98 = 1.78, hHsMean = 0.95;
const iHs98 = 1.585, iHsMean = 1.17;

// ---------- extreme events (date, height, bubble size) ----------
const dPeakT = [2012.01,2012.31,2012.3,2012.96,2013.06,2013.11,2013.12,2013.21,2012.73,2013.85,2013.83,2013.98,2014.08,2014.04,2014.11,2014.17,2014.22,2014.32,2014.87,2015.08,2015.15,2015.04,2014.93,2015.24,2015.37,2015.65,2015.71,2015.89,2016.02,2016.1,2016.08,2016.17,2016.18,2016.24,2016.86,2016.88,2017.04,2017.1,2017.16,2017.18,2017.33,2017.49,2017.8,2017.95,2018.04,2017.99,2018.02,2018.23,2018.17,2018.28,2018.76,2018.9,2018.94,2019.07,2019.17,2019.2,2019.32,2019.35,2019.43,2019.73,2019.82,2019.97,2019.95,2019.9,2020.17,2020.12,2020.03,2020.73,2020.76,2020.82,2020.93,2020.95,2020.99,2021.06];
const dPeakV = [5.34,6.59,5.73,4.73,5.74,5.74,6.51,4.66,4.47,5.19,4.49,6.02,5.44,4.29,7.94,8.07,5.47,4.62,6.27,6.22,5.92,4.38,4.02,4.12,5.29,5.36,4.82,4.92,7.58,6.51,4.82,4.68,4.92,4.7,4.37,3.85,5.12,8.15,6.55,5.94,4.64,4.54,5.05,5.76,6.02,7.19,5.53,5.76,4.78,4.37,4.31,4.76,4.37,6.68,6.07,4.29,4.29,5.44,6.19,4.07,8.09,8.25,7.74,4.84,5.67,5,5.33,5.67,7.23,4.9,5.78,5.29,7.81,4.85];
const dPeakS = [5,3.2,2,5,11,6,2.3,1.6,1.5,3.5,2,24,5.5,4,19,9,2,2.3,2,4.5,3,4,2,1.5,1.6,1.6,4,2.2,16,14,2,4,2,2.3,1.5,4,2,8,2.7,4.5,1.6,2,2,7,7,12,2,2,1.6,1.5,1.5,1.6,7,8,4.5,2,2,1.6,1.6,1.2,15,4,9,2,12,10,1.6,2,2.3,4,6,2,3.5,2.3];
const ePeakT = [2012.28,2012.09,2012.05,2012.39,2012.85,2012.93,2012.91,2013.05,2013.14,2013.16,2013.2,2013.25,2013.22,2013.37,2013.85,2013.88,2013.92,2013.97,2013.98,2014.05,2014.07,2014.11,2014.16,2014.23,2014.26,2014.37,2014.85,2014.92,2015.05,2015.09,2015.13,2015.26,2015.28,2015.84,2015.89,2016.01,2016.12,2016.14,2016.15,2016.18,2016.26,2016.45,2016.5,2016.86,2017.07,2017.14,2017.2,2017.3,2017.22,2017.48,2017.69,2017.98,2018,2018.08,2018.17,2018.23,2018.27,2018.31,2018.82,2018.95,2018.9,2019.06,2019.08,2019.23,2019.26,2019.37,2019.56,2019.87,2019.95,2019.96,2020.17,2020.2,2020.29,2020.44,2020.75,2020.94,2020.99,2021.05];
const ePeakV = [4.3,3.95,2.84,3.6,3.72,3.47,3.16,6.36,4.28,4.12,3.74,2.97,3.41,3.64,3.73,3.37,3.26,4.16,4.03,5.52,4.13,5.11,5.33,4.23,3.62,3.09,3.39,3.25,3.88,6.18,4.14,4.42,3.38,3.65,3.72,3.77,4.69,4.59,4.39,3.62,3.38,3.33,3.09,2.88,3.62,4.61,4.99,4.91,3.46,2.79,3.36,4.54,3.68,3.54,3.95,4.56,4.26,3.24,3.96,4.07,3.73,4.92,4.58,4.51,3.41,3.09,2.79,3.67,4.5,4.02,4.05,3.4,3.43,3.46,3.9,4.59,4.52,3.26];
const ePeakS = [12,1.5,1.2,2.5,3,2.2,4,14,2,7,4,5,2,5,2.5,5,3.5,2.2,2,3,2,2.5,5.5,2.5,2,2,4,1.3,1.5,9,12,4,3,1.5,1.5,4,10.5,3,6,7,1.5,1.5,1.5,3.5,1.5,4.5,6,4,2.2,3,1.5,3.5,1.5,5,5.5,10.5,5,3,4.5,2,1.5,5.5,8.5,6.5,3,2.5,2,18,3,6,5.5,2.5,3,1.5,2.2,10.5,5.5,4.5];
const hPeakT = [2012.01,2012.08,2012.18,2012.04,2013.03,2013.1,2013.18,2013.21,2013.07,2013.13,2013.25,2014.13,2014.24,2014.07,2014.28,2014.53,2014.92,2015.01,2015.18,2015.15,2015.1,2015.13,2015.37,2015.49,2015.51,2015.57,2016.14,2016.19,2016.05,2016.23,2016.06,2016.27,2016.97,2017.03,2017.19,2017.12,2017.09,2018.13,2017.96,2018.07,2018.25,2019,2019.04,2019.11,2019.15,2020.03,2020.14,2020.19,2020.21,2021.04,2021.08];
const hPeakV = [1.94,2.1,2.43,2.19,2.45,2.4,2.6,2.13,2.03,1.89,2,2.18,2.11,2.01,2,1.93,1.97,2.81,2.61,2.33,2.17,2.08,1.82,2.07,2.03,1.8,2.55,2.46,2.21,2.19,2.09,2.06,2.05,2.63,2.62,2.73,2.29,2.68,2.2,2.11,2.15,2.48,2.17,2.19,2.33,2.96,2.22,2.14,1.95,1.96,2.26];
const hPeakS = [4.5,8,22.5,1.5,8,5.5,6,4.5,4,3,2,3.5,3,3.5,1.5,3.5,3,20,19.5,3,7,4,3,2.5,4.5,3,33,3.5,2.5,5,2.5,2,2,11,13,3,4,27.5,11,3,2.5,13,11.5,6,2.5,13,6,3,7.5,1.5,1.5];
const iPeakT = [2012.29,2012.54,2012.53,2012.66,2012.81,2012.49,2012.6,2012.75,2012.63,2013.32,2013.41,2013.49,2013.6,2013.68,2013.73,2014.19,2014.23,2014.35,2014.45,2014.57,2014.52,2014.65,2014.54,2014.64,2014.75,2014.66,2015.42,2015.49,2015.56,2015.7,2015.9,2015.74,2015.54,2015.4,2016.31,2016.51,2016.52,2016.25,2016.36,2016.67,2016.71,2017.34,2017.44,2017.53,2017.55,2017.59,2017.62,2017.76,2017.71,2018.32,2018.43,2018.46,2018.66,2018.5,2018.72,2018.54,2018.49,2018.6,2018.36,2018.69,2019.22,2019.58,2019.61,2019.51,2019.66,2019.78,2019.79,2019.4,2020.45,2020.54,2020.63,2020.68,2020.66,2020.7];
const iPeakV = [1.61,2,1.89,1.88,1.87,1.76,1.69,1.71,2.17,1.63,1.75,1.76,2.05,1.77,2.12,1.71,1.94,1.65,2.08,1.95,1.85,1.8,1.8,1.87,1.93,1.74,2.13,2.09,1.93,1.84,1.81,1.71,1.74,1.65,1.89,1.88,1.85,1.73,1.64,2.05,1.72,1.63,2.35,1.95,1.85,1.74,1.68,1.87,1.7,1.77,1.72,2.22,2.18,2.07,2.05,1.99,1.87,1.83,1.62,1.69,1.87,1.99,1.83,1.76,1.87,1.72,1.66,1.67,1.95,1.89,1.88,1.84,1.78,1.6];
const iPeakS = [3.5,5.5,4,2.5,2.5,1.8,2.2,1.4,2,1.8,2.5,5.5,5,2.2,5.5,1.4,2.5,1.4,22,6,5.5,2.5,1.8,1.8,3.5,2.2,7.5,3.5,7,4.5,2.5,1.4,1.2,1.2,9,3.5,2.5,1.4,1.2,4.5,1.8,5.5,5,5.5,1.4,2.2,2.2,3,1.2,1.8,2.5,4,4.5,7,6.5,2.5,6.5,3,1.4,1.4,1.8,4,5.5,6.5,2.2,2.2,2.2,1.8,5,7,4.5,2.5,3,1.4];

// ---------- surge S series ----------
const fT = [2012,2012.03,2012.1,2012.22,2012.29,2012.35,2012.53,2012.6,2012.72,2012.79,2012.89,2012.97,2013.04,2013.08,2013.12,2013.21,2013.3,2013.4,2013.5,2013.61,2013.71,2013.8,2013.89,2013.95,2014,2014.07,2014.15,2014.19,2014.29,2014.41,2014.55,2014.69,2014.77,2014.84,2014.91,2014.98,2015.08,2015.18,2015.34,2015.49,2015.59,2015.73,2015.86,2015.99,2016.06,2016.13,2016.19,2016.31,2016.42,2016.57,2016.71,2016.81,2016.93,2017.04,2017.12,2017.22,2017.36,2017.5,2017.68,2017.79,2017.94,2018.01,2018.15,2018.27,2018.37,2018.56,2018.66,2018.73,2018.83,2018.92,2018.99,2019.05,2019.12,2019.2,2019.31,2019.45,2019.59,2019.74,2019.82,2019.88,2019.97,2020.05,2020.2,2020.31,2020.46,2020.6,2020.71,2020.83,2020.92,2021,2021.06,2021.09];
const fV = [9.6,5.7,8,12.3,16.2,9.3,12.3,14.2,17.8,15.5,14.9,9,2.5,-3.4,-10.6,-6,-7,-4,-3.7,3.1,5.7,9.1,-.1,3.8,-8,-11.2,-28.8,-38.5,-30.8,-25.5,-21,-14.5,-9.3,-7.8,-13.8,-11.2,-20.3,-24.6,-15.1,-10.6,-6,-4,-.5,-5.3,-17.7,-28.8,-32.7,-27.5,-19.7,-12.5,-6.6,-.1,3.1,7.4,-.1,-3.7,3.1,9.6,11.3,14.9,15.6,-7.3,-10.6,-15.6,-10.6,3.8,7.7,13.6,17.1,14.2,9.3,14.9,5.4,3.5,11.3,14.9,21.4,27.6,25.9,14.2,-.8,2.8,-9.9,.5,9.6,19.4,26.9,18.1,23.3,16.2,9.6,11.6];
const gT = [2012,2012.04,2012.08,2012.12,2012.16,2012.22,2012.26,2012.3,2012.34,2012.37,2012.41,2012.45,2012.5,2012.55,2012.6,2012.65,2012.69,2012.74,2012.79,2012.83,2012.87,2012.91,2012.95,2012.98,2013.02,2013.07,2013.11,2013.15,2013.2,2013.25,2013.31,2013.37,2013.42,2013.48,2013.54,2013.58,2013.63,2013.7,2013.77,2013.83,2013.88,2013.92,2013.97,2014.02,2014.06,2014.1,2014.14,2014.18,2014.23,2014.28,2014.33,2014.38,2014.42,2014.5,2014.58,2014.65,2014.71,2014.78,2014.85,2014.92,2014.98,2015.04,2015.07,2015.11,2015.16,2015.2,2015.26,2015.3,2015.35,2015.39,2015.43,2015.5,2015.57,2015.62,2015.67,2015.72,2015.79,2015.85,2015.93,2015.98,2016.03,2016.09,2016.12,2016.15,2016.2,2016.27,2016.32,2016.37,2016.42,2016.47,2016.51,2016.58,2016.65,2016.72,2016.8,2016.86,2016.92,2016.99,2017.05,2017.11,2017.15,2017.19,2017.24,2017.3,2017.34,2017.37,2017.43,2017.5,2017.59,2017.66,2017.73,2017.8,2017.89,2017.95,2018.02,2018.08,2018.14,2018.18,2018.22,2018.28,2018.33,2018.38,2018.45,2018.52,2018.57,2018.63,2018.7,2018.77,2018.83,2018.9,2018.93,2019,2019.05,2019.09,2019.14,2019.18,2019.22,2019.25,2019.3,2019.34,2019.39,2019.46,2019.53,2019.61,2019.68,2019.77,2019.83,2019.9,2019.94,2020,2020.05,2020.11,2020.17,2020.23,2020.3,2020.37,2020.42,2020.47,2020.55,2020.62,2020.69,2020.76,2020.82,2020.89,2020.93,2020.95,2020.98,2021.02,2021.04,2021.06];
const gV = [-9.9,-7,-12.5,-13.2,-6,-2.1,-7,-16.4,-8,-4,-7,-9.9,-5,-6,-8,-4.5,-5.3,-3,-2.7,-5,-1,2.5,-1,-3.4,-1,-25.9,-12,-15.1,-8,-11.2,-5,.5,-5,-10.6,-5,-7,-2.1,-3,0,4.4,-1,-4.7,-4,1.2,-7,-11.9,-6,-17.7,-7,-9.3,-5,-8,-4.7,-7,-4.5,-6,-4,-5,-2.1,-3,2.8,-.1,-10,-24.6,-12,-5,-4,-17.1,-10,-13,-11.2,-8,-4,-6,-8,-3,1.2,1,5.1,-1,-4.7,6.7,-2,-16.4,-4,3.8,6,9,4,7,4.4,7.5,8.3,5,11.6,7,12,14.2,11,15.4,7,-3.4,1,-8.6,-2,1.8,-1,4,5.7,1,2.5,6,11,5,-.1,6,7,-1,-8.3,2,0,7,5,9,11,7,11,12.3,7,10,13.9,5.7,9,-9.9,3,8.3,0,-4.7,5,-2,3.1,6,8,9.6,6,14.2,7,-2.7,3,-1,6,11.3,4,-4.4,5,7.4,2,.5,6,5.1,2,-.1,4,4.8,-4,-16.4,-7,-3.4,-10,-13.2];
const jT = [2012,2012.1,2012.22,2012.32,2012.42,2012.49,2012.59,2012.68,2012.79,2012.94,2013.02,2013.11,2013.21,2013.33,2013.43,2013.57,2013.71,2013.86,2013.97,2014.09,2014.16,2014.26,2014.38,2014.48,2014.56,2014.69,2014.81,2014.91,2014.98,2015.04,2015.16,2015.2,2015.34,2015.44,2015.53,2015.66,2015.85,2015.96,2016.06,2016.15,2016.28,2016.35,2016.44,2016.54,2016.71,2016.86,2017,2017.07,2017.19,2017.29,2017.39,2017.46,2017.58,2017.75,2017.89,2017.98,2018.08,2018.15,2018.25,2018.41,2018.58,2018.8,2018.9,2018.99,2019.09,2019.19,2019.33,2019.44,2019.56,2019.81,2020,2020.05,2020.23,2020.34,2020.46,2020.57,2020.72,2020.86,2020.96,2021.05,2021.09];
const jV = [-5.1,-12.6,-17.2,-8,2.1,3.9,-1.5,2.1,3.9,-1.5,-6.1,-16.5,-14.5,-1.5,6,5.7,10.9,11.7,1.1,-4.1,-7.4,-4.1,6.3,8.9,5.7,10.9,14.5,11.5,6.3,-8,-11.3,-14.9,3.1,8.5,1.1,7.6,12.8,8.9,-4.8,-14.9,-6.1,2.4,8.9,4.7,8.9,10.8,2.4,-8.7,-15.1,-10.6,-.2,1.4,-.8,4.4,1.8,-6.7,-8.7,-17,-11.9,1.8,-2.8,3.1,-.2,-8.7,-15.9,-10.6,.5,5.5,1.1,7.6,1.8,-8.7,-15.1,-5.4,5,3.4,7.6,8.8,1.1,-.5,-4.8];
const kT = [2012,2012.23,2012.4,2012.69,2012.84,2013.05,2013.38,2013.56,2013.77,2014.16,2014.38,2014.59,2014.93,2015.07,2015.39,2015.6,2015.79,2016.12,2016.44,2016.76,2017.16,2017.42,2017.66,2017.88,2018.11,2018.38,2018.74,2018.96,2019.25,2019.39,2019.75,2020.11,2020.36,2020.76,2021.06];
const kV = [0,2.4,1.9,-2.2,-1.5,1.4,2.5,.5,-.7,3.5,3.7,-1.5,-1.8,.5,1.9,-2.3,-1.8,2.3,.1,-2.2,2.3,1.8,-1.2,-1.8,.5,.1,-3.9,-.8,1,.5,-2.2,2.1,2.1,-3,-.2];

// ---------- drawing ----------
const NS = 'http://www.w3.org/2000/svg';
function mk(tag, attrs){
  const e = document.createElementNS(NS, tag);
  for(const k in attrs){ e.setAttribute(k, attrs[k]); }
  return e;
}
const charts = document.getElementById('charts');
const cbRoot = document.getElementById('colorbars');

// round the corners of hand-traced contour regions
document.querySelectorAll('.contours polygon').forEach(function(pg){
  const pts = pg.getAttribute('points').trim().split(/\s+/).map(function(s){ return s.split(',').map(Number); });
  const n = pts.length;
  const mid = function(a, b){ return ((a[0]+b[0])/2).toFixed(1) + ' ' + ((a[1]+b[1])/2).toFixed(1); };
  let d = 'M' + mid(pts[0], pts[1]);
  for(let i = 1; i <= n; i++){
    const v = pts[i % n], w = pts[(i+1) % n];
    d += 'Q' + v[0] + ' ' + v[1] + ' ' + mid(v, w);
  }
  const path = mk('path', {d:d + 'Z', fill:pg.getAttribute('fill')});
  
  
  pg.parentNode.replaceChild(path, pg);
});

function drawColorbar(id, colors, ticks, y, h, labelY, firstShift){
  const left = 51.8, right = 619;
  const g = mk('g', {});
  
  
  const w = (right - left) / colors.length;
  colors.forEach(function(c, i){
    const r = mk('rect', {x:left + i*w, y:y, width:w + .5, height:h, fill:c});
    
    
    g.appendChild(r);
  });
  const fr = mk('rect', {x:left, y:y, width:right-left, height:h, fill:'none', stroke:'#666', 'stroke-width':2});
  
  
  g.appendChild(fr);
  ticks.forEach(function(t, i){
    const x = left + i*(right-left)/(ticks.length-1) + (i === 0 ? firstShift : 0);
    const lab = mk('text', {x:x, y:labelY, 'font-size':28, 'text-anchor':'middle'});
    
    
    lab.textContent = t;
    g.appendChild(lab);
  });
  cbRoot.appendChild(g);
}
drawColorbar('a', cbAColors, cbATicks, 553, 36, 619, 0);
drawColorbar('b', cbBColors, cbBTicks, 1231, 36, 1297, 22);
drawColorbar('c', cbCColors, cbCTicks, 1947, 36, 2013, 2);

const YEAR_PX = 62.4;
function xAxis(left){ return function(year){ return left + (year - 2012) * YEAR_PX; }; }
function yAxis(top, bottom, lo, hi){ return function(v){ return bottom - (v - lo) / (hi - lo) * (bottom - top); }; }

function drawFrame(g, box, x, y, ticks, tickLabels, showYears){
  hsYears.forEach(function(yr, i){
    const px = x(yr);
    const gl = mk('line', {x1:px, x2:px, y1:box.t, y2:box.b, stroke:'#e6e6e6', 'stroke-width':1.6});
    
    
    g.appendChild(gl);
    if(showYears && yearLabels[i]){
      const lab = mk('text', {x:i === 8 ? px + 3 : px, y:box.b + 31, 'font-size':29, 'text-anchor':'middle'});
      
      
      lab.textContent = yearLabels[i];
      g.appendChild(lab);
    }
  });
  ticks.forEach(function(t, i){
    const py = y(t);
    const gl = mk('line', {x1:box.l, x2:box.r, y1:py, y2:py, stroke:'#e8e8e8', 'stroke-width':2.4});
    
    
    g.appendChild(gl);
    const lab = mk('text', {x:box.l - 15, y:py + 10, 'font-size':29, 'text-anchor':'end'});
    
    
    lab.textContent = tickLabels[i];
    g.appendChild(lab);
  });
}
function drawBox(g, box, x, y, ticks){
  const d = [];
  hsYears.forEach(function(yr){
    const px = x(yr);
    d.push('M'+px+' '+box.b+'V'+(box.b-7)+'M'+px+' '+box.t+'V'+(box.t+7));
  });
  ticks.forEach(function(t){
    const py = y(t);
    d.push('M'+box.l+' '+py+'H'+(box.l+6)+'M'+box.r+' '+py+'H'+(box.r-6));
  });
  const tk = mk('path', {d:d.join(''), stroke:'#555', 'stroke-width':2, fill:'none'});
  
  
  g.appendChild(tk);
  const fr = mk('rect', {x:box.l, y:box.t, width:box.r-box.l, height:box.b-box.t, fill:'none', stroke:'#555', 'stroke-width':2.4});
  
  
  g.appendChild(fr);
}
function linePath(xs, ys, x, y){
  return xs.map(function(t, i){ return (i ? 'L' : 'M') + x(t).toFixed(1) + ' ' + y(ys[i]).toFixed(1); }).join('');
}

function drawHs(id, box, lo, hi, ticks, tickLabels, series, meanT, meanV, hs98, hsMean, peakT, peakV, peakS, sw, core){
  const x = xAxis(box.l), y = yAxis(box.t, box.b, lo, hi);
  const clampY = function(v){ return Math.min(box.b, y(v)); };
  const g = mk('g', {});
  
  
  charts.appendChild(g);
  drawFrame(g, box, x, y, ticks, tickLabels, false);
  const seriesT = series.map(function(v, i){ return 2012 + i / 24 + 0.01; });
  // dense body of the trace: the band each month's low/high swing fills solid
  const topEdge = [], botEdge = [];
  for(let i = 0; i + 1 < series.length; i += 2){
    const px = x(seriesT[i] + 1/48).toFixed(1);
    const a = series[i], b = series[i+1];
    topEdge.push(px + ',' + clampY(a + core*(b-a)).toFixed(1));
    botEdge.unshift(px + ',' + clampY(a + 0.12*(b-a)).toFixed(1));
  }
  const band = mk('polygon', {points:topEdge.concat(botEdge).join(' '), fill:'#000'});
  
  
  g.appendChild(band);
  const raw = mk('path', {d:linePath(seriesT, series, x, clampY), fill:'none', stroke:'#000', 'stroke-width':sw, 'stroke-linejoin':'miter', 'stroke-miterlimit':20});
  
  
  g.appendChild(raw);
  const stemBase = (hs98 + hsMean) / 2;
  peakT.forEach(function(t, i){
    const st = mk('line', {x1:x(t), x2:x(t), y1:y(peakV[i]), y2:y(stemBase), stroke:'#000', 'stroke-width':1.8});
    
    
    g.appendChild(st);
  });
  const dash98 = mk('line', {x1:box.l, x2:box.r - 9, y1:y(hs98), y2:y(hs98), stroke:'#c9622f', 'stroke-width':4, 'stroke-dasharray':'16 9.7'});
  
  
  g.appendChild(dash98);
  const dashM = mk('line', {x1:box.l, x2:box.r - 9, y1:y(hsMean), y2:y(hsMean), stroke:'#4a78bd', 'stroke-width':4, 'stroke-dasharray':'16 9.7'});
  
  
  g.appendChild(dashM);
  const green = mk('path', {d:linePath(meanT, meanV, x, y), fill:'none', stroke:'#8cf52f', 'stroke-width':4, 'stroke-linejoin':'round'});
  
  
  g.appendChild(green);
  const order = peakT.map(function(t, i){ return i; }).sort(function(a, b){ return peakS[b] - peakS[a]; });
  order.forEach(function(i){
    const r = peakS[i];
    const big = r >= 2.5;
    const c = mk('circle', {cx:x(peakT[i]), cy:y(peakV[i]), r:big ? r : Math.max(r, 2), fill:big ? '#dd0000' : '#000', stroke:'#000', 'stroke-width':big ? 2 : .5});
    
    
    g.appendChild(c);
  });
  drawBox(g, box, x, y, ticks);
}

function drawSurge(id, box, tVals, sVals, sw){
  const x = xAxis(box.l), y = yAxis(box.t, box.b, -40, 40);
  const g = mk('g', {});
  
  
  charts.appendChild(g);
  drawFrame(g, box, x, y, surgeTicks, surgeTickLabels, true);
  const zero = mk('line', {x1:box.l, x2:box.r, y1:y(0), y2:y(0), stroke:'#333', 'stroke-width':2, 'stroke-dasharray':'6 4'});
  
  
  g.appendChild(zero);
  const s = mk('path', {d:linePath(tVals, sVals, x, y), fill:'none', stroke:'#333', 'stroke-width':sw, 'stroke-linejoin':'round'});
  
  
  g.appendChild(s);
  drawBox(g, box, x, y, surgeTicks);
}

drawHs('d', {l:761.5,r:1328.5,t:37.7,b:446}, 0, 10, dTicks, dTickLabels, dSeries, dMeanT, dMeanV, dHs98, dHsMean, dPeakT, dPeakV, dPeakS, 1.3, .62);
drawHs('e', {l:1498,r:2065,t:37.7,b:446}, 0, 6.36, eTicks, eTickLabels, eSeries, eMeanT, eMeanV, eHs98, eHsMean, ePeakT, ePeakV, ePeakS, 1.8, .72);
drawHs('h', {l:761.5,r:1328.5,t:1130.7,b:1539.3}, 0, 3, hTicks, hTickLabels, hSeries, hMeanT, hMeanV, hHs98, hHsMean, hPeakT, hPeakV, hPeakS, 1.3, .68);
drawHs('i', {l:1498,r:2065,t:1130.7,b:1539.3}, 0.5, 2.5, iTicks, iTickLabels, iSeries, iMeanT, iMeanV, iHs98, iHsMean, iPeakT, iPeakV, iPeakS, 1.3, .7);
drawSurge('f', {l:761.5,r:1328.5,t:481.7,b:890.7}, fT, fV, 3.2);
drawSurge('g', {l:1498,r:2065,t:481.7,b:890.7}, gT, gV, 3.2);
drawSurge('j', {l:761.5,r:1328.5,t:1574.7,b:1983.3}, jT, jV, 3.2);
drawSurge('k', {l:1498,r:2065,t:1574.7,b:1983.3}, kT, kV, 3.2);
</script>
</body>
</html>
